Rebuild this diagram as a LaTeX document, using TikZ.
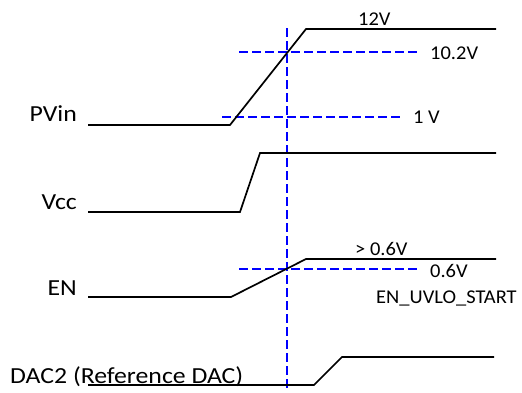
\documentclass[tikz,border=0pt]{standalone}
\usepackage{graphicx}
\usepackage{fontspec}
\setmainfont{Carlito}
\newcommand{\leftlab}[1]{\scalebox{1.12}[1]{#1}}
\newcommand{\rightlab}[1]{\scalebox{1.05}[1]{#1}}
\tikzset{
  sig/.style={line width=1.7pt, black, line join=miter},
  marker/.style={line width=1.7pt, blue, dash pattern=on 8.5pt off 4.5pt},
  leftlabel/.style={inner sep=0pt, anchor=base east, font=\fontsize{23}{27}\selectfont},
  rightlabel/.style={inner sep=0pt, anchor=base west, font=\fontsize{19.5}{23}\selectfont},
}
\begin{document}
\begin{tikzpicture}[x=1pt, y=-1pt]
\useasboundingbox (0,0) rectangle (522,392);
% waveform points
\coordinate (p0) at (88,125);
\coordinate (p1) at (230,125);
\coordinate (p2) at (306,29);
\coordinate (p3) at (496,29);
\coordinate (v0) at (88,212);
\coordinate (v1) at (240,212);
\coordinate (v2) at (260,153);
\coordinate (v3) at (496,153);
\coordinate (e0) at (88,297);
\coordinate (e1) at (231,297);
\coordinate (e2) at (306,259);
\coordinate (e3) at (496,259);
\coordinate (d0) at (88,385);
\coordinate (d1) at (314,385);
\coordinate (d2) at (342,357);
\coordinate (d3) at (494,357);
% marker line ends
\coordinate (vt) at (287,28);
\coordinate (vb) at (287,392);
\coordinate (h1a) at (239,52);
\coordinate (h1b) at (421,52);
\coordinate (h2a) at (222,117);
\coordinate (h2b) at (404,117);
\coordinate (h3a) at (239,269);
\coordinate (h3b) at (421,269);
% markers
\draw[marker] (vt) -- (vb);
\draw[marker] (h1a) -- (h1b);
\draw[marker] (h2a) -- (h2b);
\draw[marker] (h3a) -- (h3b);
% waveforms
\draw[sig] (p0) -- (p1) -- (p2) -- (p3);
\draw[sig] (v0) -- (v1) -- (v2) -- (v3);
\draw[sig] (e0) -- (e1) -- (e2) -- (e3);
\draw[sig] (d0) -- (d1) -- (d2) -- (d3);
% left labels
\node[leftlabel] (lpvin) at (77,121) {\leftlab{PVin}};
\node[leftlabel] (lvcc) at (77,209) {\leftlab{Vcc}};
\node[leftlabel] (len) at (77,295) {\leftlab{EN}};
\node[leftlabel, anchor=base west] (ldac) at (10,383) {\leftlab{DAC2 (Reference DAC)}};
% right labels
\node[rightlabel] (l12) at (358,25) {\rightlab{12V}};
\node[rightlabel] (l102) at (430,59) {\rightlab{10.2V}};
\node[rightlabel] (l1v) at (413,123) {\rightlab{1 V}};
\node[rightlabel] (lgt) at (355,255) {\rightlab{> 0.6V}};
\node[rightlabel] (l06) at (430,277) {\rightlab{0.6V}};
\node[rightlabel] (luvlo) at (376,303) {\rightlab{EN\_UVLO\_START}};
\end{tikzpicture}
\end{document}
